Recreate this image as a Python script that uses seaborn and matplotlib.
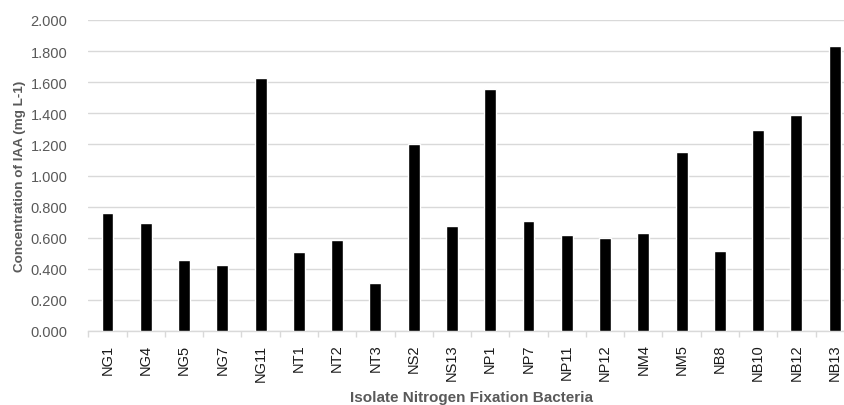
import matplotlib
matplotlib.use("Agg")
import matplotlib.pyplot as plt
import matplotlib.ticker as mticker
import numpy as np
import pandas as pd
import seaborn as sns

# isolates and IAA concentration (mg L-1)
isolates = ["NG1", "NG4", "NG5", "NG7", "NG11", "NT1", "NT2", "NT3", "NS2", "NS13",
            "NP1", "NP7", "NP11", "NP12", "NM4", "NM5", "NB8", "NB10", "NB12", "NB13"]
iaa = [0.760, 0.693, 0.455, 0.424, 1.629, 0.506, 0.585, 0.311, 1.200, 0.677,
       1.558, 0.707, 0.615, 0.596, 0.628, 1.149, 0.517, 1.295, 1.389, 1.835]
yticks = [0.0, 0.2, 0.4, 0.6, 0.8, 1.0, 1.2, 1.4, 1.6, 1.8, 2.0]

df = pd.DataFrame({"isolate": isolates, "iaa": iaa})

sns.set_theme(style="white")
plt.rcParams["font.family"] = ["Liberation Sans", "DejaVu Sans"]

grey = "#595959"
grid = "#d9d9d9"

fig = plt.figure(figsize=(8.44, 4.06), dpi=100)
ax = fig.add_axes([88.4 / 844, 74 / 406, 765.4 / 844, 311 / 406])

sns.barplot(data=df, x="isolate", y="iaa", color="black", width=0.31,
            saturation=1, ax=ax, zorder=3)

ax.set_ylim(0, 2.0)
ax.set_xlim(-0.5, len(isolates) - 0.5)
ax.set_yticks(yticks)
ax.yaxis.set_major_formatter(mticker.FormatStrFormatter("%.3f"))
ax.yaxis.grid(True, color=grid, linewidth=1, zorder=0)
ax.set_axisbelow(True)

for s in ["top", "right", "left"]:
    ax.spines[s].set_visible(False)
ax.spines["bottom"].set_color(grid)
ax.spines["bottom"].set_linewidth(1)

ax.tick_params(axis="y", length=0, pad=15, labelsize=10.5, labelcolor=grey)
ax.tick_params(axis="x", which="major", length=0, pad=9, labelsize=10.5,
               labelcolor="#1a1a1a", rotation=90)
ax.xaxis.set_minor_locator(mticker.FixedLocator(np.arange(len(isolates) + 1) - 0.5))
ax.tick_params(axis="x", which="minor", length=4, width=1, color=grid, bottom=True)

ax.set_ylabel("Concentration of IAA (mg L-1)", fontsize=9.7, fontweight="bold", color=grey)
ax.set_xlabel("Isolate Nitrogen Fixation Bacteria", fontsize=11, fontweight="bold", color=grey)
ax.yaxis.set_label_coords(-0.0815, 0.5)
ax.xaxis.set_label_coords(0.5, -0.19)

fig.savefig("out.png", dpi=100)
